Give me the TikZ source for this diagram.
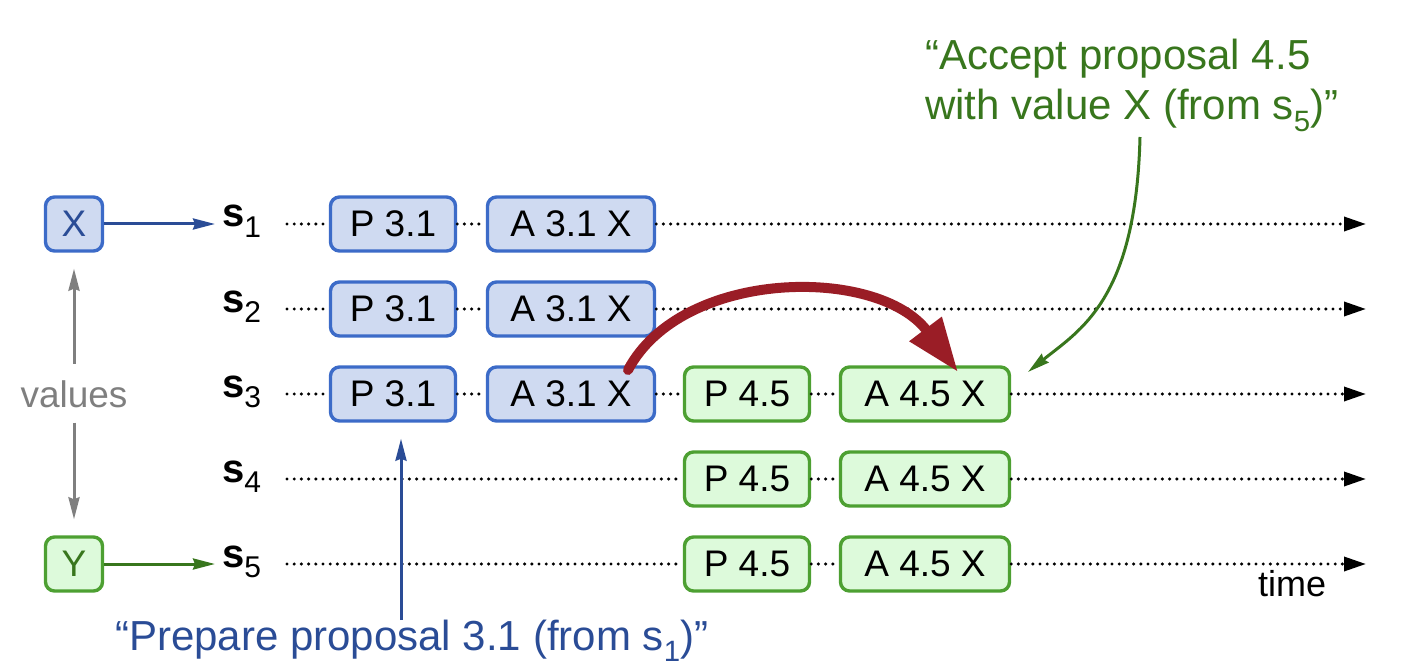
\documentclass[tikz,border=0pt]{standalone}
\usepackage{fontspec}
\setmainfont{Liberation Sans}
\usetikzlibrary{arrows.meta}
\definecolor{bfill}{HTML}{CFDAF1}
\definecolor{bdraw}{HTML}{3C6BC8}
\definecolor{btext}{HTML}{2A4C96}
\definecolor{gfill}{HTML}{DDFADB}
\definecolor{gdraw}{HTML}{4DA032}
\definecolor{gtext}{HTML}{38761D}
\definecolor{rcol}{HTML}{9A1D26}
\definecolor{gry}{HTML}{7F7F7F}
\tikzset{
 box/.style={rounded corners=9pt, line width=3.4pt, minimum height=54pt, inner sep=0pt, font=\fontsize{37}{37}\selectfont, text=black},
 bbox/.style={box, draw=bdraw, fill=bfill},
 gbox/.style={box, draw=gdraw, fill=gfill},
 tl/.style={line width=3.4pt, dash pattern=on 0pt off 7.2pt, line cap=round},
 tla/.style={tl, -{Triangle[length=22pt,width=14pt]}},
 slabel/.style={anchor=base west, inner sep=0pt, font=\fontsize{40}{40}\selectfont},
 harrow/.style={line width=3pt, -{Stealth[length=22pt,width=11pt,inset=2pt]}},
 quote/.style={inner sep=0pt, font=\fontsize{42}{50}\selectfont},
}
\newcommand{\rowlab}[1]{\textbf{s}{\fontsize{30}{30}\selectfont\raisebox{-10pt}{#1}}}
\begin{document}
\begin{tikzpicture}[x=1pt,y=-1pt]
\useasboundingbox (0,0) rectangle (1404,668);
% value boxes
\node[bbox, minimum width=57pt, text=btext] (X) at (74,224) {X};
\node[gbox, minimum width=57pt, text=gtext] (Y) at (74,564) {Y};
\node[inner sep=0pt, text=gry, font=\fontsize{37}{37}\selectfont, anchor=base] (val) at (74,407) {values};
% row labels
\node[slabel] (s1) at (222,227) {\rowlab{1}};
\node[slabel] (s2) at (222,312) {\rowlab{2}};
\node[slabel] (s3) at (222,397) {\rowlab{3}};
\node[slabel] (s4) at (222,482) {\rowlab{4}};
\node[slabel] (s5) at (222,567) {\rowlab{5}};
% boxes
\node[bbox, minimum width=125pt] (P1) at (393,224) {P 3.1};
\node[bbox, minimum width=167pt] (A1) at (571,224) {A 3.1 X};
\node[bbox, minimum width=125pt] (P2) at (393,309) {P 3.1};
\node[bbox, minimum width=167pt] (A2) at (571,309) {A 3.1 X};
\node[bbox, minimum width=125pt] (P3) at (393,394) {P 3.1};
\node[bbox, minimum width=167pt] (A3) at (571,394) {A 3.1 X};
\node[gbox, minimum width=125pt] (Q3) at (747,394) {P 4.5};
\node[gbox, minimum width=169pt] (B3) at (925,394) {A 4.5 X};
\node[gbox, minimum width=125pt] (Q4) at (747,479) {P 4.5};
\node[gbox, minimum width=169pt] (B4) at (925,479) {A 4.5 X};
\node[gbox, minimum width=125pt] (Q5) at (747,564) {P 4.5};
\node[gbox, minimum width=169pt] (B5) at (925,564) {A 4.5 X};
% time lines
\coordinate (l1) at (287,224); \coordinate (e1) at (1366,224);
\coordinate (l2) at (287,309); \coordinate (e2) at (1366,309);
\coordinate (l3) at (287,394); \coordinate (e3) at (1366,394);
\coordinate (l4) at (287,479); \coordinate (e4) at (1366,479);
\coordinate (l5) at (287,564); \coordinate (e5) at (1366,564);
\draw[tl] (l1) -- (P1.west); \draw[tl] (P1.east) -- (A1.west); \draw[tla] (A1.east) -- (e1);
\draw[tl] (l2) -- (P2.west); \draw[tl] (P2.east) -- (A2.west); \draw[tla] (A2.east) -- (e2);
\draw[tl] (l3) -- (P3.west); \draw[tl] (P3.east) -- (A3.west); \draw[tl] (A3.east) -- (Q3.west);
\draw[tl] (Q3.east) -- (B3.west); \draw[tla] (B3.east) -- (e3);
\draw[tl] (l4) -- (Q4.west); \draw[tl] (Q4.east) -- (B4.west); \draw[tla] (B4.east) -- (e4);
\draw[tl] (l5) -- (Q5.west); \draw[tl] (Q5.east) -- (B5.west); \draw[tla] (B5.east) -- (e5);
\node[anchor=base west, inner sep=0pt, font=\fontsize{36}{36}\selectfont] (time) at (1258,596) {time};
% value arrows
\coordinate (xa) at (215,224); \coordinate (ya) at (215,564);
\draw[harrow, btext] (X.east) -- (xa);
\draw[harrow, gtext] (Y.east) -- (ya);
\draw[harrow, gry, shorten <=16pt, shorten >=16pt] (val) -- (X);
\draw[harrow, gry, shorten <=15pt, shorten >=16pt] (val) -- (Y);
% annotations
\node[quote, text=btext, anchor=base west] (prep) at (115,650) {“Prepare proposal 3.1 (from s\textsubscript{1})”};
\coordinate (pstart) at (401,620);
\draw[harrow, btext, shorten >=16pt] (pstart) -- (pstart |- P3.south);
\node[quote, text=gtext, anchor=north west, align=left] (acc) at (925,39) {“Accept proposal 4.5\\with value X (from s\textsubscript{5})”};
\coordinate (gstart) at (1140,137);
\coordinate (gend) at (1028,372);
\draw[harrow, gtext] (gstart) .. controls (1136,300) and (1080,330) .. (gend);
% red arc
\coordinate (rs) at (628,370);
\coordinate (re) at (958,372);
\draw[rcol, line width=10pt, line cap=round, -{Triangle[length=54pt,width=38pt]}] (rs) .. controls (682,268) and (878,266) .. (re);
\end{tikzpicture}
\end{document}
